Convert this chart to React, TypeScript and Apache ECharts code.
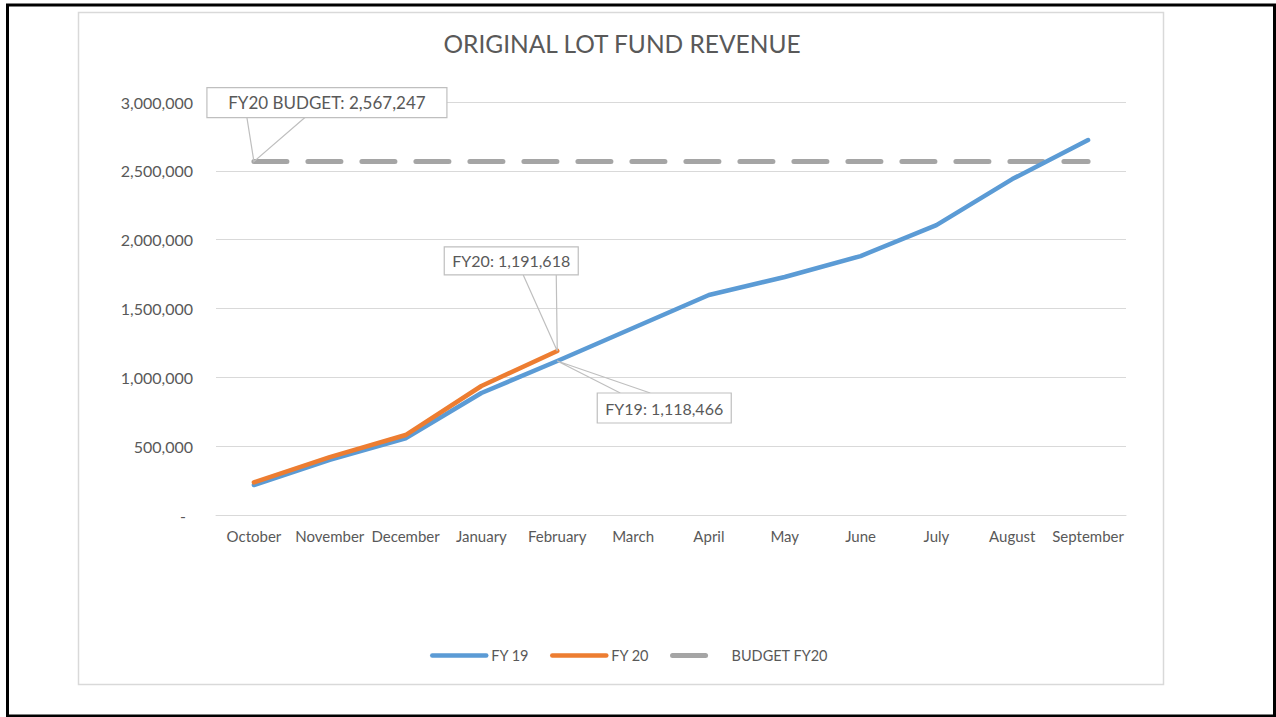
import React, { useEffect, useRef } from "react";
import * as echarts from "echarts";

const months = ["October", "November", "December", "January", "February", "March", "April", "May", "June", "July", "August", "September"];
const fy19 = [218000, 400000, 557000, 886000, 1118466, 1358000, 1598000, 1729000, 1881000, 2106000, 2440000, 2724000];
const fy20 = [237000, 420000, 581000, 937000, 1191618];
const budget = [2567247, 2567247, 2567247, 2567247, 2567247, 2567247, 2567247, 2567247, 2567247, 2567247, 2567247, 2567247];
const yTicks = { min: 0, max: 3000000, interval: 500000 };

const FONT = "Lato";
const TXT = "#595959";
const fmt = (v: number) => v.toLocaleString("en-US");

export default function App() {
  const ref = useRef<HTMLDivElement>(null);
  useEffect(() => {
    if (!ref.current) return;
    const chart = echarts.init(ref.current, null, { renderer: "svg" });
    chart.setOption({
      animation: false,
      backgroundColor: "#fff",
      textStyle: { fontFamily: FONT },
      title: {
        text: "ORIGINAL LOT FUND REVENUE",
        left: 622,
        top: 31,
        padding: 0,
        textAlign: "center",
        textStyle: { fontFamily: FONT, fontSize: 24.5, fontWeight: "normal", color: TXT },
      },
      grid: { left: 216, right: 150, top: 102, bottom: 202 },
      legend: {
        left: 430,
        top: 648,
        padding: 0,
        itemWidth: 54,
        itemHeight: 14,
        itemGap: 21,
        itemStyle: { opacity: 0 },
        lineStyle: { width: "inherit", type: "inherit", cap: "inherit" },
        textStyle: { fontFamily: FONT, fontSize: 14.5, color: TXT },
        data: ["FY 19", "FY 20", "BUDGET FY20"],
      },
      xAxis: {
        type: "category",
        data: months,
        boundaryGap: true,
        axisLine: { lineStyle: { color: "#d9d9d9", width: 1 } },
        axisTick: { show: false },
        axisLabel: { color: TXT, fontFamily: FONT, fontSize: 15, margin: 13, interval: 0 },
      },
      yAxis: {
        type: "value",
        min: yTicks.min,
        max: yTicks.max,
        interval: yTicks.interval,
        axisLine: { show: false },
        axisTick: { show: false },
        splitLine: { lineStyle: { color: "#d9d9d9", width: 1 } },
        axisLabel: {
          color: TXT,
          fontFamily: FONT,
          fontSize: 16,
          margin: 23,
          formatter: (v: number) => (v === 0 ? "{z|-}" : fmt(v)),
          rich: { z: { color: TXT, fontFamily: FONT, fontSize: 16, padding: [0, 7, 0, 0] } },
        },
      },
      series: [
        {
          name: "FY 19",
          type: "line",
          data: fy19,
          symbol: "none",
          z: 2,
          lineStyle: { color: "#5b9bd5", width: 4.5, cap: "round", join: "round" },
          itemStyle: { color: "#5b9bd5" },
        },
        {
          name: "FY 20",
          type: "line",
          data: fy20,
          symbol: "none",
          z: 3,
          lineStyle: { color: "#ed7d31", width: 4.5, cap: "round", join: "round" },
          itemStyle: { color: "#ed7d31" },
        },
        {
          name: "BUDGET FY20",
          type: "line",
          data: budget,
          symbol: "none",
          z: 1,
          lineStyle: { color: "#a5a5a5", width: 5, type: [33, 21], cap: "round" },
          itemStyle: { color: "#a5a5a5" },
        },
      ],
    });

    const pBud = chart.convertToPixel({ seriesIndex: 2 }, [0, budget[0]]) as number[];
    const p20 = chart.convertToPixel({ seriesIndex: 1 }, [4, fy20[4]]) as number[];
    const p19 = chart.convertToPixel({ seriesIndex: 0 }, [4, fy19[4]]) as number[];

    const callout = (
      id: string,
      text: string,
      size: number,
      pt: number[],
      bx: number,
      by: number,
      bw: number,
      bh: number,
      a: number[],
      b: number[]
    ) => [
      {
        type: "polyline",
        id: id + "-lead",
        z: 20,
        shape: { points: [[pt[0] + a[0], pt[1] + a[1]], [pt[0], pt[1]], [pt[0] + b[0], pt[1] + b[1]]] },
        style: { stroke: "#bfbfbf", lineWidth: 1.2, fill: null },
      },
      {
        type: "rect",
        id: id + "-box",
        z: 21,
        shape: { x: pt[0] + bx, y: pt[1] + by, width: bw, height: bh },
        style: { fill: "#fff", stroke: "#bfbfbf", lineWidth: 1.2 },
      },
      {
        type: "text",
        id: id + "-txt",
        z: 22,
        x: pt[0] + bx + bw / 2,
        y: pt[1] + by + bh / 2,
        style: { text, fill: TXT, font: `${size}px ${FONT}`, align: "center", verticalAlign: "middle" },
      },
    ];

    chart.setOption({
      graphic: [
        {
          type: "rect",
          id: "outer",
          z: 0,
          silent: true,
          shape: { x: 7.5, y: 5, width: 1267, height: 711 },
          style: { fill: null, stroke: "#000", lineWidth: 3 },
        },
        {
          type: "rect",
          id: "inner",
          z: 0,
          silent: true,
          shape: { x: 78.5, y: 12.5, width: 1085, height: 672 },
          style: { fill: null, stroke: "#d9d9d9", lineWidth: 1.5 },
        },
        ...callout("bud", "FY20 BUDGET: " + fmt(budget[0]), 17, pBud, -47, -74, 240, 30, [-7, -44], [51, -44]),
        ...callout("fy20", "FY20: " + fmt(fy20[4]), 16, p20, -113, -104, 134, 28, [-34, -76], [-1, -76]),
        ...callout("fy19", "FY19: " + fmt(fy19[4]), 16, p19, 40, 32, 134, 30, [63, 32], [93, 32]),
      ],
    });

    return () => chart.dispose();
  }, []);
  return <div ref={ref} style={{ position: "fixed", left: 0, top: 0, width: 1276, height: 717 }} />;
}
